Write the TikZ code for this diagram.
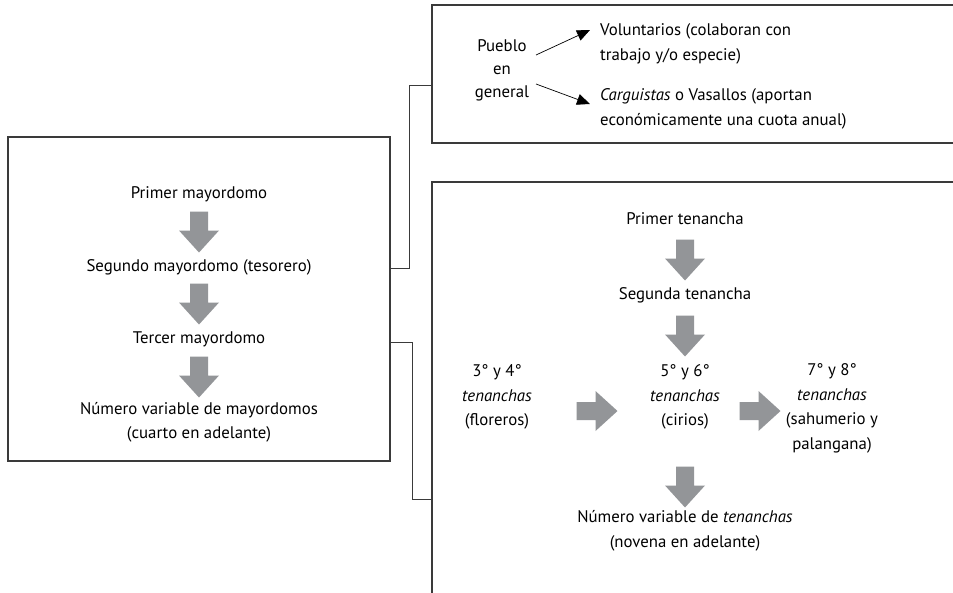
\documentclass[tikz,border=0pt]{standalone}
\usepackage{fontspec}
\setmainfont{PT Sans}
\usetikzlibrary{arrows.meta}
\definecolor{boxline}{HTML}{3A3A3A}
\definecolor{arrowgray}{HTML}{939598}
\tikzset{
  frame/.style={draw=boxline, line width=1.1pt, rectangle, inner sep=0pt},
  conn/.style={draw=boxline, line width=1.1pt},
  txt/.style={align=center, inner sep=0pt, font=\fontsize{16.8}{24.5}\selectfont},
  ltxt/.style={align=left, inner sep=0pt, font=\fontsize{16.8}{25}\selectfont},
  thinarrow/.style={draw=black, line width=0.7pt, -{Triangle[length=13pt,width=11pt]}},
  blockarrow/.pic={\fill[arrowgray] (-9,-20.5) -- (9,-20.5) -- (9,-1.5) -- (20,-1.5) -- (0,20.5) -- (-20,-1.5) -- (-9,-1.5) -- cycle;}
}
\begin{document}
\begin{tikzpicture}[x=1pt,y=-1pt]
\clip (0,0) rectangle (953,592);
\fill[white] (0,0) rectangle (953,592);
% boxes
\node[frame, minimum width=382pt, minimum height=324pt] (L) at (199,299) {};
\node[frame, minimum width=538pt, minimum height=138pt] (T) at (701,74) {};
\node[frame, minimum width=538pt, minimum height=438pt] (B) at (701,401) {};
% connectors
\draw[conn] ([yshift=-132pt]L.north east) -- ++(19,0) |- ([yshift=-81pt]T.north west);
\draw[conn] ([yshift=-206pt]L.north east) -- ++(22,0) |- ([yshift=-318pt]B.north west);
% left box
\node[txt] (m1) at (199,194) {Primer mayordomo};
\node[txt] (m2) at (199,267) {Segundo mayordomo (tesorero)};
\node[txt] (m3) at (199,339) {Tercer mayordomo};
\node[txt] (m4) at (199,422.5) {Número variable de mayordomos\\(cuarto en adelante)};
\pic at (199,232) {blockarrow};
\pic at (199,304) {blockarrow};
\pic at (199,377) {blockarrow};
% top box
\node[txt, font=\fontsize{16.8}{23}\selectfont] (pg) at (502,70) {Pueblo\\en\\general};
\node[ltxt, anchor=west] (vol) at (600,44) {Voluntarios (colaboran con\\trabajo y/o especie)};
\node[ltxt, anchor=west] (car) at (600,109) {\textit{Carguistas} o Vasallos (aportan\\económicamente una cuota anual)};
\coordinate (a1s) at (536,55);
\coordinate (a1e) at (590,30);
\coordinate (a2s) at (536,84);
\coordinate (a2e) at (590,104);
\draw[thinarrow] (a1s) -- (a1e);
\draw[thinarrow] (a2s) -- (a2e);
% bottom box
\node[txt] (t1) at (685,219) {Primer tenancha};
\node[txt] (t2) at (685,295) {Segunda tenancha};
\node[txt] (t34) at (497,397) {3° y 4°\\\textit{tenanchas}\\(floreros)};
\node[txt] (t56) at (685,397) {5° y 6°\\\textit{tenanchas}\\(cirios)};
\node[txt] (t78) at (832,408.5) {7° y 8°\\\textit{tenanchas}\\(sahumerio y\\palangana)};
\node[txt] (t9) at (685,531) {Número variable de \textit{tenanchas}\\(novena en adelante)};
\pic at (685,260) {blockarrow};
\pic at (685,336) {blockarrow};
\pic[rotate=90] at (597,411) {blockarrow};
\pic[rotate=90] at (760,411) {blockarrow};
\pic at (685,487) {blockarrow};
\end{tikzpicture}
\end{document}
